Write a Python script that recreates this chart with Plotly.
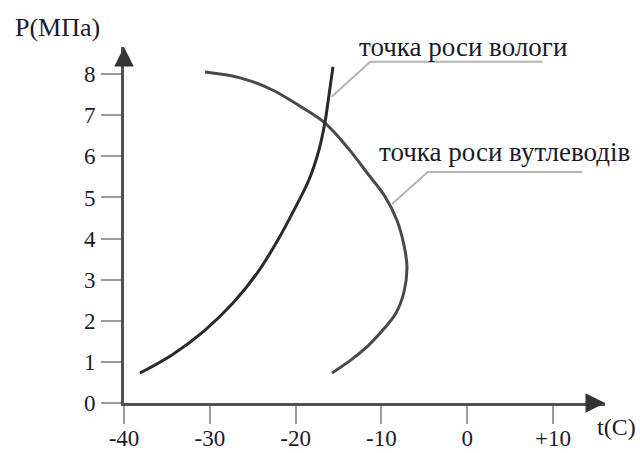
import plotly.graph_objects as go

# Phase diagram: dew point of water and of hydrocarbons, pressure vs temperature
hydrate_t = [-38.14, -34.41, -30.68, -27.30, -24.38, -22.05, -20.07, -18.44, -17.27, -16.57, -16.11, -15.64]
hydrate_p = [0.73, 1.17, 1.75, 2.43, 3.19, 3.97, 4.74, 5.43, 6.16, 6.84, 7.49, 8.18]

hydrocarbon_t = [-30.56, -26.48, -22.75, -19.49, -16.57, -13.89, -11.56, -9.60, -8.20, -7.37, -7.02,
                 -7.37, -8.30, -9.81, -11.56, -13.54, -15.76]
hydrocarbon_p = [8.05, 7.91, 7.62, 7.22, 6.81, 6.20, 5.57, 5.03, 4.45, 3.84, 3.31,
                 2.70, 2.19, 1.78, 1.39, 1.05, 0.73]

# callout leaders for the two curve labels
moisture_leader_t = [-15.8, -11.3, 8.8]
moisture_leader_p = [7.45, 8.30, 8.30]
hydrocarbon_leader_t = [-8.76, -4.6, 13.4]
hydrocarbon_leader_p = [4.84, 5.62, 5.62]

x_ticks = [-40, -30, -20, -10, 0, 10]
x_tick_labels = ["-40", "-30", "-20", "-10", "0", "+10"]
y_ticks = [0, 1, 2, 3, 4, 5, 6, 7, 8]

moisture_label = "точка роси вологи"
hydrocarbon_label = "точка роси вутлеводів"

FONT = "Liberation Serif"
TEXT = "#1b1b2b"
AXIS = "#505050"

fig = go.Figure()

for t, p in [(moisture_leader_t, moisture_leader_p), (hydrocarbon_leader_t, hydrocarbon_leader_p)]:
    fig.add_trace(go.Scatter(x=t, y=p, mode="lines",
                             line=dict(color="#b4b4b4", width=2),
                             hoverinfo="skip", showlegend=False))

fig.add_trace(go.Scatter(x=hydrocarbon_t, y=hydrocarbon_p, mode="lines",
                         line=dict(color="#4a4a4a", width=3, shape="spline", smoothing=1.0),
                         name=hydrocarbon_label, showlegend=False))
fig.add_trace(go.Scatter(x=hydrate_t, y=hydrate_p, mode="lines",
                         line=dict(color="#2a2a2a", width=3, shape="spline", smoothing=1.0),
                         name=moisture_label, showlegend=False))

x_range = [-40, 16.06]
y_range = [0, 8.66]

fig.update_xaxes(range=x_range, tickvals=x_ticks, ticktext=x_tick_labels,
                 showgrid=False, zeroline=False, automargin=False,
                 showline=True, linecolor=AXIS, linewidth=3,
                 ticks="outside", ticklen=18, tickwidth=2, tickcolor="#9a9a9a",
                 ticklabelstandoff=-6,
                 tickfont=dict(family=FONT, size=23, color=TEXT))
fig.update_yaxes(range=y_range, tickvals=y_ticks,
                 showgrid=False, zeroline=False, automargin=False,
                 showline=True, linecolor=AXIS, linewidth=3,
                 ticks="outside", ticklen=20, tickwidth=2, tickcolor="#9a9a9a",
                 ticklabelstandoff=1,
                 tickfont=dict(family=FONT, size=23, color=TEXT))

# axis lines run a little past the origin
fig.add_shape(type="line", xref="x", yref="y", xsizemode="pixel", xanchor=-40,
              x0=-20, x1=0, y0=0, y1=0, line=dict(color=AXIS, width=3))
fig.add_shape(type="line", xref="x", yref="y", ysizemode="pixel", yanchor=0,
              x0=-40, x1=-40, y0=-9, y1=0, line=dict(color=AXIS, width=3))

# axis arrows
fig.add_annotation(x=-40, y=y_range[1], xref="x", yref="y", text="", showarrow=True,
                   ax=0, ay=16, arrowhead=2, arrowsize=1.3, arrowwidth=3, arrowcolor="#333333")
fig.add_annotation(x=x_range[1], y=0, xref="x", yref="y", text="", showarrow=True,
                   ax=-16, ay=0, arrowhead=2, arrowsize=1.3, arrowwidth=3, arrowcolor="#333333")

# axis titles
fig.add_annotation(x=-0.231, y=1.056, xref="paper", yref="paper", text="P(МПа)", showarrow=False,
                   xanchor="left", yanchor="middle",
                   font=dict(family=FONT, size=26, color=TEXT))
fig.add_annotation(x=0.979, y=-0.067, xref="paper", yref="paper", text="t(C)", showarrow=False,
                   xanchor="left", yanchor="middle",
                   font=dict(family=FONT, size=24, color=TEXT))

# curve labels
fig.add_annotation(x=-12.84, y=8.66, xref="x", yref="y", text=moisture_label, showarrow=False,
                   xanchor="left", yanchor="middle",
                   font=dict(family=FONT, size=27, color=TEXT))
fig.add_annotation(x=-10.51, y=6.11, xref="x", yref="y", text=hydrocarbon_label, showarrow=False,
                   xanchor="left", yanchor="middle",
                   font=dict(family=FONT, size=27, color=TEXT))

fig.update_layout(width=640, height=453,
                  margin=dict(l=124, r=35, t=47, b=50),
                  paper_bgcolor="white", plot_bgcolor="white")

fig.write_html("out.html")
